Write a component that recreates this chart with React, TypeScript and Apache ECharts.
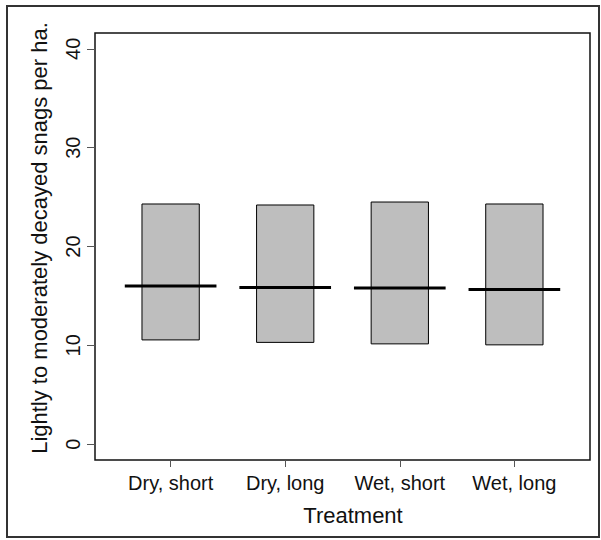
import React, { useEffect, useRef } from "react";
import * as echarts from "echarts";

const categories = ["Dry, short", "Dry, long", "Wet, short", "Wet, long"];
const lowerValues = [10.55, 10.3, 10.15, 10.05];
const medianValues = [16.0, 15.85, 15.8, 15.65];
const upperValues = [24.3, 24.2, 24.5, 24.3];
const yTickValues = [0, 10, 20, 30, 40];
const xTickPositions = [1, 2, 3, 4];
const yTitle = "Lightly to moderately decayed snags per ha.";
const xTitle = "Treatment";

const FONT = "'Liberation Sans', Arial, Helvetica, sans-serif";

export default function App() {
  const ref = useRef<HTMLDivElement>(null);
  useEffect(() => {
    const chart = echarts.init(ref.current!, null, { renderer: "svg" });
    const data = categories.map((c, i) => [xTickPositions[i], lowerValues[i], medianValues[i], upperValues[i]]);
    chart.setOption({
      animation: false,
      backgroundColor: "#ffffff",
      grid: {
        left: 95,
        top: 33,
        width: 495,
        height: 427,
        show: true,
        borderColor: "#111111",
        borderWidth: 1.5,
        backgroundColor: "transparent",
        containLabel: false,
      },
      xAxis: {
        type: "value",
        min: 0.34,
        max: 4.66,
        splitLine: { show: false },
        axisLine: { show: false, onZero: false },
        axisTick: { show: true, inside: false, customValues: xTickPositions, length: 7, lineStyle: { color: "#555", width: 1 } },
        axisLabel: {
          customValues: xTickPositions,
          formatter: (v: number) => categories[Math.round(v) - 1] ?? "",
          fontSize: 20,
          color: "#111",
          fontFamily: FONT,
          margin: 13,
        },
      },
      yAxis: {
        type: "value",
        min: -1.6,
        max: 41.6,
        splitLine: { show: false },
        axisLine: { show: false, onZero: false },
        axisTick: { show: true, inside: false, customValues: yTickValues, length: 8, lineStyle: { color: "#555", width: 1 } },
        axisLabel: {
          customValues: yTickValues,
          rotate: 90,
          fontSize: 20,
          color: "#111",
          fontFamily: FONT,
          margin: 12,
        },
      },
      series: [
        {
          type: "custom",
          data,
          encode: { x: 0, y: [1, 2, 3] },
          renderItem: (params: any, api: any) => {
            const x = api.value(0);
            const lo = api.value(1);
            const med = api.value(2);
            const hi = api.value(3);
            const pLL = api.coord([x - 0.25, lo]);
            const pUR = api.coord([x + 0.25, hi]);
            const m1 = api.coord([x - 0.4, med]);
            const m2 = api.coord([x + 0.4, med]);
            return {
              type: "group",
              children: [
                {
                  type: "rect",
                  shape: { x: pLL[0], y: pUR[1], width: pUR[0] - pLL[0], height: pLL[1] - pUR[1] },
                  style: { fill: "#bebebe", stroke: "#000", lineWidth: 1 },
                },
                {
                  type: "line",
                  shape: { x1: m1[0], y1: m1[1], x2: m2[0], y2: m2[1] },
                  style: { stroke: "#000", lineWidth: 3 },
                },
              ],
            };
          },
        },
      ],
      graphic: [
        {
          type: "rect",
          shape: { x: 7, y: 6, width: 592, height: 531 },
          style: { fill: "none", stroke: "#333", lineWidth: 2 },
          z: 100,
        },
        {
          type: "text",
          x: 39.5,
          y: 238,
          rotation: Math.PI / 2,
          style: {
            text: yTitle,
            fontSize: 22,
            fontFamily: FONT,
            fill: "#111",
            align: "center",
            verticalAlign: "middle",
          },
        },
        {
          type: "text",
          x: 353,
          y: 515,
          style: {
            text: xTitle,
            fontSize: 22,
            fontFamily: FONT,
            fill: "#111",
            align: "center",
            verticalAlign: "middle",
          },
        },
      ],
    });
    return () => chart.dispose();
  }, []);
  return <div ref={ref} style={{ position: "absolute", left: 0, top: 0, width: 601, height: 540 }} />;
}
